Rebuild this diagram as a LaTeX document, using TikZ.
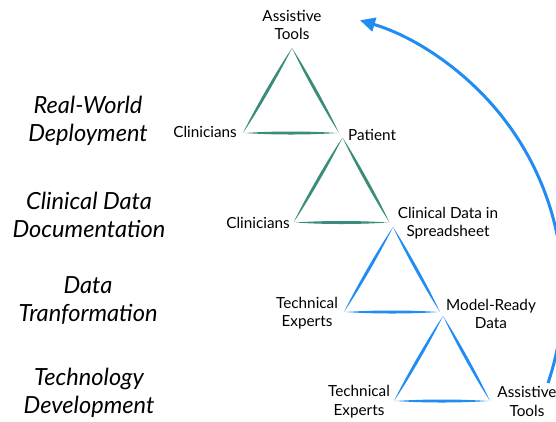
\documentclass[tikz,border=0pt]{standalone}
\usepackage{fontspec}
\setmainfont{Lato}
\usetikzlibrary{calc,arrows.meta}
\definecolor{tealbrush}{RGB}{58,141,122}
\definecolor{bluebrush}{RGB}{33,140,242}
\newcommand\brushline[3]{%
  \fill[#1] (#2) .. controls ($(#2)!0.3!(#3)!2pt!90:(#3)$) and ($(#2)!0.7!(#3)!2pt!90:(#3)$) .. (#3)
    .. controls ($(#2)!0.7!(#3)!2pt!-90:(#3)$) and ($(#2)!0.3!(#3)!2pt!-90:(#3)$) .. (#2) -- cycle;}
\newcommand\brushtri[3]{% color, prefix, apex position
  \path (#3) coordinate (#2A) ++(-49,86) coordinate (#2L) ++(96,0) coordinate (#2R);
  \coordinate (#2Ax) at ($(#2A)+(0,1)$);
  \coordinate (#2Lh) at ($(#2L)+(2,0)$);
  \coordinate (#2Rh) at ($(#2R)+(-2,0)$);
  \brushline{#1}{#2Ax}{#2L}
  \brushline{#1}{#2Ax}{#2R}
  \brushline{#1}{#2Lh}{#2Rh}}
\tikzset{
  lbl/.style={font=\fontsize{15.3}{18.5}\selectfont, inner sep=0pt, align=center, text=black},
  phase/.style={font=\fontsize{23.6}{28}\selectfont\itshape, inner sep=0pt, align=center, text=black},
  cycle arrow/.style={draw=bluebrush, line width=3pt, -{Triangle[length=15pt,width=14pt]}}
}
\begin{document}
\begin{tikzpicture}[x=1pt,y=-1pt]
\clip (0,0) rectangle (556,421);
\fill[white] (0,0) rectangle (556,421);
% triangles
\brushtri{tealbrush}{a}{292,47}
\brushtri{tealbrush}{b}{342.5,136.5}
\brushtri{bluebrush}{c}{393,226}
\brushtri{bluebrush}{d}{443,315}
% vertex labels
\node[lbl] (at1) at (292,25) {Assistive\\Tools};
\node[lbl, anchor=east] (cl1) at (237,131.5) {Clinicians};
\node[lbl, anchor=west] (pat) at (348,134.5) {Patient};
\node[lbl, anchor=east] (cl2) at (290,222.5) {Clinicians};
\node[lbl] (cds) at (448,223) {Clinical Data in\\Spreadsheet};
\node[lbl] (te1) at (307,313) {Technical\\Experts};
\node[lbl] (mrd) at (491,314) {Model-Ready\\Data};
\node[lbl] (te2) at (359,401.5) {Technical\\Experts};
\node[lbl] (at2) at (527,401.5) {Assistive\\Tools};
% phase labels
\node[phase] (p1) at (88,121) {Real-World\\Deployment};
\node[phase] (p2) at (89,215) {Clinical Data\\Documentation};
\node[phase] (p3) at (88,301) {Data\\Tranformation};
\node[phase] (p4) at (89,393) {Technology\\Development};
% cycle arrow
\coordinate (arcstart) at (548,383);
\draw[cycle arrow] (arcstart) arc[start angle=-18.7, end angle=73.5, radius=283.5pt];
\end{tikzpicture}
\end{document}
